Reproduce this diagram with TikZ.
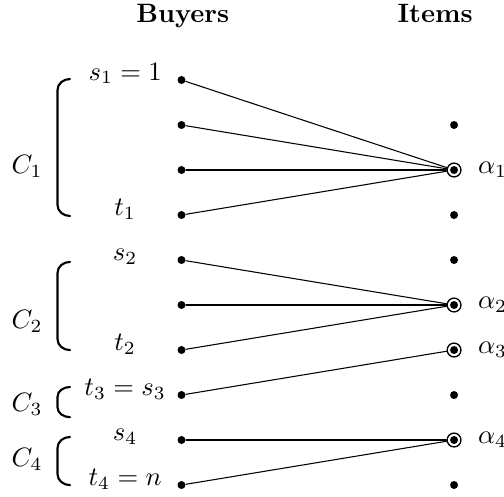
\documentclass[tikz,border=0pt]{standalone}
\usepackage{amsmath}
\usepackage{tikz}

\begin{document}
\begin{tikzpicture}[
  x=0.595cm, y=0.595cm,
  line cap=round,
  line join=round,
  dot/.style={circle, fill=black, inner sep=0pt, minimum size=3pt},
  ring/.style={circle, draw, inner sep=0pt, minimum size=5.2pt, line width=0.5pt},
  cbrace/.style={line width=0.8pt}
]
  \useasboundingbox (0,0) rectangle (11.2,-11.044);

  % column headers
  \node[anchor=base] (buy) at (4.06,-0.51) {\textbf{Buyers}};
  \node[anchor=base] (itm) at (9.67,-0.51) {\textbf{Items}};

  % buyers on the left, items on the right
  \foreach \r in {1,...,10}{\node[dot] (b\r) at (4.033,-0.778-\r) {};}
  \foreach \r in {2,...,10}{\node[dot] (i\r) at (10.09,-0.778-\r) {};}

  % chosen items get a ring
  \foreach \r/\k in {3/1,6/2,7/3,9/4}{
    \node[ring] (al\k) at (i\r) {};
    \node[right=5.5pt] (la\k) at (al\k) {$\alpha_\k$};
  }

  % edges
  \foreach \r in {1,...,4}{\draw (b\r) -- (al1);}
  \foreach \r in {5,6,7}{\draw (b\r) -- (al2);}
  \draw (b8) -- (al3);
  \foreach \r in {9,10}{\draw (b\r) -- (al4);}

  % buyer labels
  \coordinate (lx) at (2.78,0);
  \node[anchor=base] (l1)  at (lx |- b1)  {$s_1 = 1$};
  \node[anchor=base] (l4)  at (lx |- b4)  {$t_1$};
  \node[anchor=base] (l5)  at (lx |- b5)  {$s_2$};
  \node[anchor=base] (l7)  at (lx |- b7)  {$t_2$};
  \node[anchor=base] (l8)  at (lx |- b8)  {$t_3 = s_3$};
  \node[anchor=base] (l9)  at (lx |- b9)  {$s_4$};
  \node[anchor=base] (l10) at (lx |- b10) {$t_4 = n$};

  % classes
  \draw[cbrace] (1.556,-1.756) to[out=180,in=90] (1.278,-2.0)
    -- (1.278,-4.556) to[out=-90,in=180] (1.556,-4.8);
  \draw[cbrace] (1.556,-5.82) to[out=180,in=90] (1.278,-6.064)
    -- (1.278,-7.536) to[out=-90,in=180] (1.556,-7.78);
  \draw[cbrace] (1.556,-8.6) to[out=180,in=90] (1.278,-8.82)
    -- (1.278,-9.05) to[out=-90,in=180] (1.556,-9.27);
  \draw[cbrace] (1.556,-9.71) to[out=180,in=90] (1.278,-9.954)
    -- (1.278,-10.536) to[out=-90,in=180] (1.556,-10.78);

  \node (c1) at (0.6,-3.69)  {$C_1$};
  \node (c2) at (0.6,-7.14)  {$C_2$};
  \node (c3) at (0.6,-8.98)  {$C_3$};
  \node (c4) at (0.6,-10.22) {$C_4$};
\end{tikzpicture}
\end{document}
